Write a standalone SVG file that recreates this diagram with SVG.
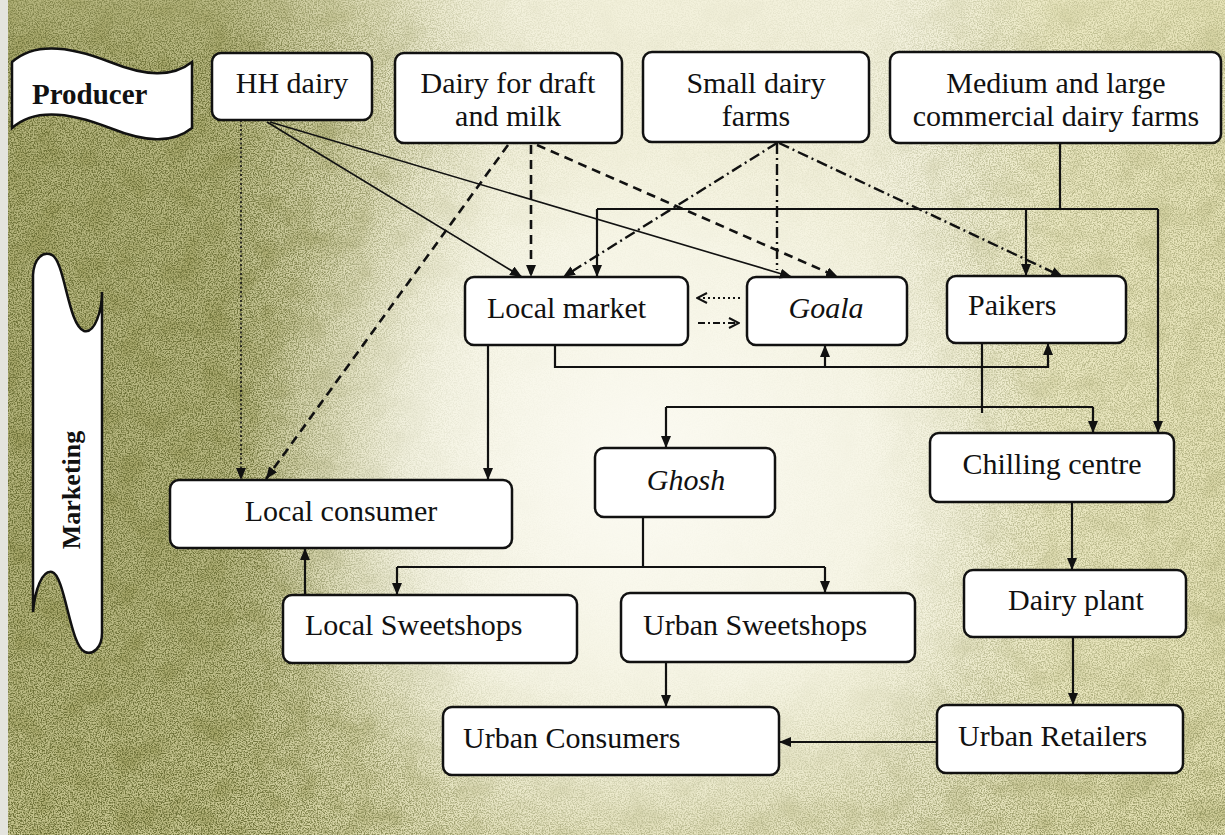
<svg xmlns="http://www.w3.org/2000/svg" width="1225" height="835" viewBox="0 0 1225 835">
<style>
.box{fill:#fff;stroke:#111;stroke-width:2.5}
.t{font-family:"Liberation Serif","Times New Roman",serif;font-size:30px;fill:#111}
.it{font-style:italic}
.banner{fill:#fff;stroke:#111;stroke-width:2.5}
.bt{font-family:"Liberation Serif","Times New Roman",serif;font-weight:bold;fill:#111}
.ln{fill:none;stroke:#111;stroke-width:2.2}
.thin{fill:none;stroke:#111;stroke-width:1.6}
.dot{fill:none;stroke:#111;stroke-width:1.6;stroke-dasharray:2 2.5}
.dash{fill:none;stroke:#111;stroke-width:2.6;stroke-dasharray:9 6}
.dd{fill:none;stroke:#111;stroke-width:2.4;stroke-dasharray:11 4 2 4}
</style>
<defs>
<marker id="ah" viewBox="0 0 12 10" refX="12" refY="5" markerWidth="12" markerHeight="10" markerUnits="userSpaceOnUse" orient="auto">
<path d="M0,0 L12,5 L0,10 z" fill="#111"/>
</marker>
<marker id="oh" viewBox="0 0 12 12" refX="11" refY="6" markerWidth="12" markerHeight="12" markerUnits="userSpaceOnUse" orient="auto">
<path d="M1,1 L11,6 L1,11" fill="none" stroke="#111" stroke-width="2"/>
</marker>
<linearGradient id="tint" x1="0" y1="0" x2="1" y2="0">
<stop offset="0" stop-color="#aeae72" stop-opacity="0.9"/>
<stop offset="0.18" stop-color="#b0b074" stop-opacity="0.85"/>
<stop offset="0.3" stop-color="#c8c690" stop-opacity="0.5"/>
<stop offset="0.42" stop-color="#e6e4c0" stop-opacity="0"/>
<stop offset="0.74" stop-color="#e8e6bc" stop-opacity="0"/>
<stop offset="0.86" stop-color="#e6e2ae" stop-opacity="0.55"/>
<stop offset="1" stop-color="#e0dca4" stop-opacity="0.65"/>
</linearGradient>
<linearGradient id="tintB" x1="0" y1="0" x2="0" y2="1">
<stop offset="0.72" stop-color="#e0deae" stop-opacity="0"/>
<stop offset="1" stop-color="#d8d5a0" stop-opacity="0.5"/>
</linearGradient>
<radialGradient id="bgC" cx="640" cy="470" r="390" gradientUnits="userSpaceOnUse">
<stop offset="0" stop-color="#fcfbf4" stop-opacity="0.95"/>
<stop offset="0.6" stop-color="#f9f8ec" stop-opacity="0.65"/>
<stop offset="1" stop-color="#f4f2dc" stop-opacity="0"/>
</radialGradient>
<linearGradient id="mg" x1="0" y1="0" x2="1" y2="0">
<stop offset="0" stop-color="#c0c0c0"/>
<stop offset="0.2" stop-color="#b8b8b8"/>
<stop offset="0.3" stop-color="#747474"/>
<stop offset="0.4" stop-color="#2a2a2a"/>
<stop offset="0.5" stop-color="#121212"/>
<stop offset="0.7" stop-color="#1a1a1a"/>
<stop offset="0.8" stop-color="#4c4c4c"/>
<stop offset="1" stop-color="#5a5a5a"/>
</linearGradient>
<linearGradient id="mgB" x1="0" y1="0" x2="0" y2="1">
<stop offset="0" stop-color="#000" stop-opacity="0.35"/>
<stop offset="0.08" stop-color="#000" stop-opacity="0"/>
<stop offset="0.78" stop-color="#fff" stop-opacity="0"/>
<stop offset="1" stop-color="#fff" stop-opacity="0.3"/>
</linearGradient>
<mask id="sm">
<rect x="0" y="0" width="1225" height="835" fill="url(#mg)"/>
<rect x="0" y="0" width="1225" height="835" fill="url(#mgB)"/>
</mask>
<filter id="speck" x="0" y="0" width="1225" height="835" filterUnits="userSpaceOnUse" color-interpolation-filters="sRGB">
<feTurbulence type="fractalNoise" baseFrequency="0.75" numOctaves="3" seed="5"/>
<feColorMatrix type="matrix" values="0 0 0 0 0.33  0 0 0 0 0.35  0 0 0 0 0.12  3.4 0 0 0 -1.35"/>
</filter>
<filter id="blot" x="0" y="0" width="1225" height="835" filterUnits="userSpaceOnUse" color-interpolation-filters="sRGB">
<feTurbulence type="fractalNoise" baseFrequency="0.035" numOctaves="3" seed="11"/>
<feColorMatrix type="matrix" values="0 0 0 0 0.55  0 0 0 0 0.55  0 0 0 0 0.28  1.6 0 0 0 -0.72"/>
</filter>
</defs>
<g id="background">
<rect x="0" y="0" width="1225" height="835" fill="#f3f1dc"/>
<rect x="0" y="0" width="1225" height="835" fill="url(#tint)"/>
<rect x="0" y="0" width="1225" height="835" fill="url(#tintB)"/>
<g mask="url(#sm)">
<rect x="0" y="0" width="1225" height="835" filter="url(#blot)"/>
<rect x="0" y="0" width="1225" height="835" filter="url(#speck)"/>
</g>
<rect x="0" y="0" width="1225" height="835" fill="url(#bgC)"/>
<rect x="0" y="0" width="8" height="835" fill="#e4e4de"/>
</g>
<g id="producer">
<path class="banner" d="M12,62 C34,42 70,46 110,62 C145,76 172,78 192,62 L192,128 C172,144 145,142 110,128 C70,112 34,108 12,128 Z"/>
<text class="bt" x="32" y="104" font-size="29">Producer</text>
</g>
<g id="marketing">
<path class="banner" d="M33,612 L33,275 C34,258 43,251 52,255 C65,262 68,325 84,331 C95,334 102,310 102,292 L102,633 C102,648 93,655 85,652 C70,646 65,575 52,572 C42,570 35,590 33,612 Z"/>
<text class="bt" font-size="26" text-anchor="middle" transform="translate(80,490) rotate(-90)">Marketing</text>
</g>
<g id="hh-dairy"><rect class="box" x="212" y="53" width="160" height="67" rx="9"/><text class="t" x="292" y="93" text-anchor="middle">HH dairy</text></g>
<g id="dairy-draft"><rect class="box" x="395" y="53" width="227" height="90" rx="9"/><text class="t" x="508" y="93" text-anchor="middle">Dairy for draft</text><text class="t" x="508" y="126" text-anchor="middle">and milk</text></g>
<g id="small-dairy"><rect class="box" x="643" y="52" width="226" height="90" rx="9"/><text class="t" x="756" y="93" text-anchor="middle">Small dairy</text><text class="t" x="756" y="126" text-anchor="middle">farms</text></g>
<g id="medium-large"><rect class="box" x="890" y="52" width="331" height="91" rx="9"/><text class="t" x="1056" y="93" text-anchor="middle">Medium and large</text><text class="t" x="1056" y="126" text-anchor="middle">commercial dairy farms</text></g>
<g id="local-market"><rect class="box" x="465" y="277" width="223" height="68" rx="9"/><text class="t" x="487" y="318">Local market</text></g>
<g id="goala"><rect class="box" x="747" y="277" width="160" height="68" rx="9"/><text class="t it" x="826" y="318" text-anchor="middle">Goala</text></g>
<g id="paikers"><rect class="box" x="947" y="276" width="179" height="67" rx="9"/><text class="t" x="968" y="315">Paikers</text></g>
<g id="local-consumer"><rect class="box" x="170" y="480" width="342" height="68" rx="9"/><text class="t" x="341" y="521" text-anchor="middle">Local consumer</text></g>
<g id="ghosh"><rect class="box" x="595" y="448" width="180" height="69" rx="9"/><text class="t it" x="686" y="490" text-anchor="middle">Ghosh</text></g>
<g id="chilling-centre"><rect class="box" x="930" y="433" width="244" height="69" rx="9"/><text class="t" x="1052" y="474" text-anchor="middle">Chilling centre</text></g>
<g id="local-sweetshops"><rect class="box" x="283" y="595" width="294" height="68" rx="9"/><text class="t" x="305" y="635">Local Sweetshops</text></g>
<g id="urban-sweetshops"><rect class="box" x="621" y="593" width="294" height="69" rx="9"/><text class="t" x="643" y="635">Urban Sweetshops</text></g>
<g id="dairy-plant"><rect class="box" x="964" y="570" width="222" height="67" rx="9"/><text class="t" x="1076" y="610" text-anchor="middle">Dairy plant</text></g>
<g id="urban-consumers"><rect class="box" x="443" y="707" width="336" height="68" rx="9"/><text class="t" x="463" y="748">Urban Consumers</text></g>
<g id="urban-retailers"><rect class="box" x="937" y="705" width="246" height="68" rx="9"/><text class="t" x="958" y="746">Urban Retailers</text></g>
<g id="connectors">
<path class="dot" d="M241,120 L241,480" marker-end="url(#ah)"/>
<path class="thin" d="M267,122 L522,277" marker-end="url(#ah)"/>
<path class="thin" d="M270,122 L792,277" marker-end="url(#ah)"/>
<path class="dash" d="M508,145 L266,479" marker-end="url(#ah)"/>
<path class="dash" d="M531,145 L531,277" marker-end="url(#ah)"/>
<path class="dash" d="M537,145 L838,277" marker-end="url(#ah)"/>
<path class="dd" d="M777,143 L563,277" marker-end="url(#ah)"/>
<path class="dd" d="M777,143 L777,270"/>
<path class="dd" d="M779,143 L1063,277" marker-end="url(#ah)"/>
<path class="ln" d="M1060,143 L1060,209 M597,209 L1158,209"/>
<path class="ln" d="M597,209 L597,277" marker-end="url(#ah)"/>
<path class="ln" d="M1026,209 L1026,276" marker-end="url(#ah)"/>
<path class="ln" d="M1158,209 L1158,433" marker-end="url(#ah)"/>
<path class="ln" d="M488,345 L488,480" marker-end="url(#ah)"/>
<path class="ln" d="M555,345 L555,367 L1048,367 L1048,343" marker-end="url(#ah)"/>
<path class="ln" d="M825,367 L825,345" marker-end="url(#ah)"/>
<path class="ln" d="M982,343 L982,413 M666,407 L1093,407"/>
<path class="ln" d="M666,407 L666,448" marker-end="url(#ah)"/>
<path class="ln" d="M1093,407 L1093,433" marker-end="url(#ah)"/>
<path class="ln" d="M643,517 L643,567 M397,567 L825,567"/>
<path class="ln" d="M397,567 L397,595" marker-end="url(#ah)"/>
<path class="ln" d="M825,567 L825,593" marker-end="url(#ah)"/>
<path class="ln" d="M305,595 L305,548" marker-end="url(#ah)"/>
<path class="ln" d="M1072,502 L1072,570" marker-end="url(#ah)"/>
<path class="ln" d="M1073,637 L1073,705" marker-end="url(#ah)"/>
<path class="ln" d="M937,742 L779,742" marker-end="url(#ah)"/>
<path class="ln" d="M666,662 L666,707" marker-end="url(#ah)"/>
<path fill="none" stroke="#111" stroke-width="2" stroke-dasharray="2 3" d="M740,298 L697,298" marker-end="url(#oh)"/>
<path fill="none" stroke="#111" stroke-width="2" stroke-dasharray="7 3 2 3" d="M698,323 L739,323" marker-end="url(#oh)"/>
</g>
</svg>
